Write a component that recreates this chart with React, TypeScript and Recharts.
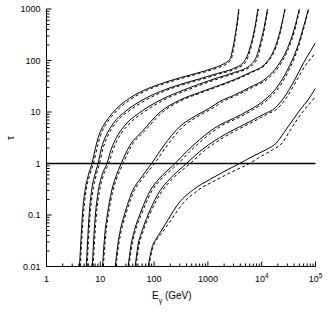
import { LineChart, Line, XAxis, YAxis, ReferenceLine } from "recharts";

// axis ticks
const xMajor = [1, 10, 100, 1000, 10000, 100000];
const xMajorLabels = ["1", "10", "100", "1000", "10^4", "10^5"];
const yMajor = [0.01, 0.1, 1, 10, 100, 1000];
const yMajorLabels = ["0.01", "0.1", "1", "10", "100", "1000"];
const minorSteps = [2, 3, 4, 5, 6, 7, 8, 9];

const xTicks = [
  ...xMajor,
  ...xMajor.slice(0, -1).flatMap((d) => minorSteps.map((k) => k * d)),
];
const yTicks = [
  ...yMajor,
  ...yMajor.slice(0, -1).flatMap((d) => minorSteps.map((k) => +(k * d).toPrecision(3))),
];

// optical depth curves: [E (GeV), tau], solid and dashed model for each source
const c1 = [[4.1, 0.01], [4.35, 0.03], [4.65, 0.1], [5.2, 0.3], [6.0, 0.6], [7.0, 1], [8.3, 2.2], [9.5, 3.6], [11.5, 5.5], [14, 7.5], [19, 11], [31, 17], [63, 26], [130, 35], [300, 46], [600, 56], [1250, 71], [2000, 87], [2550, 105], [2900, 170], [3200, 300], [3500, 550], [3750, 1000]];
const c1d = [[4.25, 0.01], [4.5, 0.03], [4.85, 0.1], [5.45, 0.3], [6.35, 0.6], [7.45, 1], [8.9, 2.2], [10.2, 3.6], [12.4, 5.5], [15.2, 7.5], [21, 11], [35, 17], [72, 26], [150, 35], [350, 46], [700, 56], [1450, 71], [2250, 87], [2700, 105], [3000, 170], [3280, 300], [3560, 550], [3800, 1000]];

const c2 = [[5.5, 0.01], [5.8, 0.03], [6.2, 0.1], [6.9, 0.3], [7.9, 0.6], [9.1, 1], [10.5, 2], [12.5, 3.3], [15.3, 4.9], [20, 7.2], [30, 10.5], [60, 17], [130, 25], [300, 34], [700, 44], [1500, 56], [3000, 70], [4500, 90], [5500, 130], [6500, 230], [7500, 450], [8500, 1000]];
const c2d = [[5.7, 0.01], [6.0, 0.03], [6.45, 0.1], [7.3, 0.3], [8.4, 0.6], [9.7, 1], [11.3, 2], [13.5, 3.3], [16.6, 4.9], [22, 7.2], [34, 10.5], [70, 17], [150, 25], [350, 34], [820, 44], [1750, 56], [3400, 70], [4900, 90], [5800, 130], [6700, 230], [7700, 450], [8700, 1000]];

const c3 = [[7.1, 0.01], [7.5, 0.03], [8.1, 0.1], [9.2, 0.3], [10.8, 0.6], [13.3, 1], [16, 1.9], [20, 3.2], [30, 5.8], [60, 10.5], [130, 17], [300, 25], [700, 35], [1500, 46], [3000, 58], [6000, 80], [8000, 120], [9500, 220], [11000, 420], [12800, 1000]];
const c3d = [[7.35, 0.01], [7.8, 0.03], [8.45, 0.1], [9.7, 0.3], [11.5, 0.6], [14.3, 1], [17.4, 1.9], [22, 3.2], [34, 5.8], [70, 10.5], [150, 17], [350, 25], [820, 35], [1750, 46], [3400, 58], [6600, 80], [8500, 120], [9900, 220], [11300, 420], [13000, 1000]];

const c4 = [[11, 0.01], [12.2, 0.045], [13.5, 0.1], [16.3, 0.3], [18.8, 0.5], [24.5, 1], [35, 2.2], [60, 4.2], [130, 10], [300, 17], [700, 24], [1500, 32], [3000, 42], [6000, 58], [12000, 90], [16000, 140], [20000, 260], [24000, 550], [27000, 1000]];
const c4d = [[11.4, 0.01], [12.7, 0.045], [14.1, 0.1], [17.2, 0.3], [20, 0.5], [26.5, 1], [38, 2.2], [66, 4.2], [145, 10], [335, 17], [780, 24], [1650, 32], [3250, 42], [6400, 58], [12600, 90], [16600, 140], [20600, 260], [24400, 550], [27300, 1000]];

const c5 = [[19, 0.01], [21, 0.025], [23.5, 0.05], [28, 0.1], [40, 0.3], [55, 0.5], [90, 1], [150, 2.2], [300, 5.2], [600, 8.5], [1090, 12], [1660, 16], [3000, 21], [6000, 30], [12000, 45], [20000, 80], [30000, 170], [40000, 400], [50000, 1000]];
const c5d = [[19.6, 0.01], [21.8, 0.025], [24.6, 0.05], [29.5, 0.1], [43, 0.3], [60, 0.5], [102, 1], [172, 2.2], [345, 5.2], [690, 8.5], [1250, 12], [1900, 16], [3400, 21], [6700, 30], [13200, 45], [21500, 80], [31500, 170], [41500, 400], [51000, 1000]];

const c6 = [[33, 0.01], [37, 0.025], [43, 0.05], [54, 0.1], [85, 0.3], [123, 0.5], [245, 1], [400, 1.7], [700, 2.9], [1090, 4.2], [1660, 5.6], [3000, 7.5], [6000, 11], [12000, 18], [20000, 32], [30000, 65], [45000, 170], [60000, 450], [74000, 1000]];
const c6d = [[34, 0.01], [38.5, 0.025], [45, 0.05], [57.5, 0.1], [92, 0.3], [136, 0.5], [282, 1], [460, 1.7], [805, 2.9], [1250, 4.2], [1900, 5.6], [3450, 7.5], [6800, 11], [13300, 18], [21800, 32], [32000, 65], [47000, 170], [61500, 450], [75000, 1000]];

const c7 = [[44.5, 0.01], [50, 0.025], [60, 0.05], [77, 0.1], [130, 0.3], [195, 0.5], [400, 1], [700, 1.7], [1090, 2.4], [1660, 3.2], [3000, 4.5], [6000, 6.5], [12000, 9.5], [16000, 11], [25000, 18], [40000, 40], [60000, 90], [80000, 150], [100000, 220]];
const c7d = [[46, 0.01], [52, 0.025], [63, 0.05], [82, 0.1], [143, 0.3], [218, 0.5], [470, 1], [820, 1.7], [1280, 2.4], [1950, 3.2], [3500, 4.5], [7000, 6.5], [13800, 9.5], [18300, 11], [28000, 18], [44000, 40], [65000, 80], [85000, 115], [100000, 140]];

const c8 = [[78, 0.01], [88, 0.02], [110, 0.035], [129, 0.045], [205, 0.1], [263, 0.15], [535, 0.31], [1090, 0.49], [2000, 0.7], [3900, 1], [7000, 1.4], [12000, 1.85], [18700, 2.5], [26000, 4], [38000, 7], [55000, 12], [72000, 17], [100000, 29]];
const c8d = [[80, 0.01], [91, 0.02], [116, 0.035], [140, 0.045], [240, 0.1], [315, 0.15], [680, 0.31], [1500, 0.49], [2900, 0.7], [5900, 1], [10000, 1.4], [16000, 1.85], [24000, 2.5], [32000, 4], [45000, 7], [62000, 11], [80000, 15], [100000, 20]];

const solidCurves = [c1, c2, c3, c4, c5, c6, c7, c8];
const dashedCurves = [c1d, c2d, c3d, c4d, c5d, c6d, c7d, c8d];

const toPoints = (arr: number[][]) => arr.map(([e, t]) => ({ e, t }));

const FONT = "Liberation Sans, Arial, sans-serif";
const MAJOR = 5;
const MINOR = 3;

const isMajor = (list: number[], v: number) => list.some((m) => Math.abs(m - v) / m < 1e-6);

const renderSup = (label: string) => {
  if (label.includes("^")) {
    const [base, exp] = label.split("^");
    return (
      <>
        {base}
        <tspan dy={-4} fontSize={6.5}>{exp}</tspan>
      </>
    );
  }
  return label;
};

const BottomTick = ({ x, y, payload }: any) => {
  const i = xMajor.findIndex((m) => Math.abs(m - payload.value) / m < 1e-6);
  return (
    <g>
      <line x1={x} x2={x} y1={y} y2={y - (i >= 0 ? MAJOR : MINOR)} stroke="#000" strokeWidth={1} />
      {i >= 0 && (
        <text x={x} y={y + 15} textAnchor="middle" fontSize={9} fontFamily={FONT} fill="#000">
          {renderSup(xMajorLabels[i])}
        </text>
      )}
    </g>
  );
};

const TopTick = ({ x, y, payload }: any) => (
  <line x1={x} x2={x} y1={y} y2={y + (isMajor(xMajor, payload.value) ? MAJOR : MINOR)} stroke="#000" strokeWidth={1} />
);

const LeftTick = ({ x, y, payload }: any) => {
  const i = yMajor.findIndex((m) => Math.abs(m - payload.value) / m < 1e-6);
  return (
    <g>
      <line x1={x} x2={x + (i >= 0 ? MAJOR : MINOR)} y1={y} y2={y} stroke="#000" strokeWidth={1} />
      {i >= 0 && (
        <text x={x - 6} y={y + 3.2} textAnchor="end" fontSize={9} fontFamily={FONT} fill="#000">
          {yMajorLabels[i]}
        </text>
      )}
    </g>
  );
};

const RightTick = ({ x, y, payload }: any) => (
  <line x1={x} x2={x - (isMajor(yMajor, payload.value) ? MAJOR : MINOR)} y1={y} y2={y} stroke="#000" strokeWidth={1} />
);

const XTitle = () => (
  <text x={152} y={299} fontSize={10} fontFamily={FONT} fill="#000">
    E<tspan dy={4} fontSize={7}>γ</tspan>
    <tspan dy={-4}> (GeV)</tspan>
  </text>
);

const YTitle = () => (
  <text x={14} y={138} fontSize={10} fontFamily={FONT} fill="#000" textAnchor="middle" transform="rotate(-90 14 138)">
    τ
  </text>
);

const App = () => {
  return (
    <div style={{ position: "absolute", left: 0, top: 0, background: "#fff" }}>
      <LineChart width={327} height={314} margin={{ top: 9, right: 11.5, left: 0, bottom: 0 }}>
        {/* bottom axis with labels */}
        <XAxis
          dataKey="e"
          type="number"
          scale="log"
          domain={[1, 100000]}
          allowDataOverflow
          ticks={xTicks}
          interval={0}
          tickSize={0}
          tickMargin={0}
          tickLine={false}
          tick={<BottomTick />}
          axisLine={{ stroke: "#000", strokeWidth: 1 }}
          height={47.5}
          label={<XTitle />}
        />
        {/* top frame */}
        <XAxis
          xAxisId="t"
          orientation="top"
          type="number"
          scale="log"
          domain={[1, 100000]}
          allowDataOverflow
          ticks={xTicks}
          interval={0}
          tickSize={0}
          tickMargin={0}
          tickLine={false}
          tick={<TopTick />}
          axisLine={{ stroke: "#000", strokeWidth: 1 }}
          height={0}
        />
        <YAxis
          type="number"
          scale="log"
          domain={[0.01, 1000]}
          allowDataOverflow
          ticks={yTicks}
          interval={0}
          tickSize={0}
          tickMargin={0}
          tickLine={false}
          tick={<LeftTick />}
          axisLine={{ stroke: "#000", strokeWidth: 1 }}
          width={46.5}
          label={<YTitle />}
        />
        <YAxis
          yAxisId="r"
          orientation="right"
          type="number"
          scale="log"
          domain={[0.01, 1000]}
          allowDataOverflow
          ticks={yTicks}
          interval={0}
          tickSize={0}
          tickMargin={0}
          tickLine={false}
          tick={<RightTick />}
          axisLine={{ stroke: "#000", strokeWidth: 1 }}
          width={0}
        />

        <ReferenceLine y={1} stroke="#000" strokeWidth={1.3} />

        {solidCurves.map((c, i) => (
          <Line
            key={`s${i}`}
            data={toPoints(c)}
            dataKey="t"
            type="monotone"
            stroke="#000"
            strokeWidth={1}
            dot={false}
            isAnimationActive={false}
          />
        ))}
        {dashedCurves.map((c, i) => (
          <Line
            key={`d${i}`}
            data={toPoints(c)}
            dataKey="t"
            type="monotone"
            stroke="#000"
            strokeWidth={1}
            strokeDasharray="3 2.5"
            dot={false}
            isAnimationActive={false}
          />
        ))}
      </LineChart>
    </div>
  );
};

export default App;
